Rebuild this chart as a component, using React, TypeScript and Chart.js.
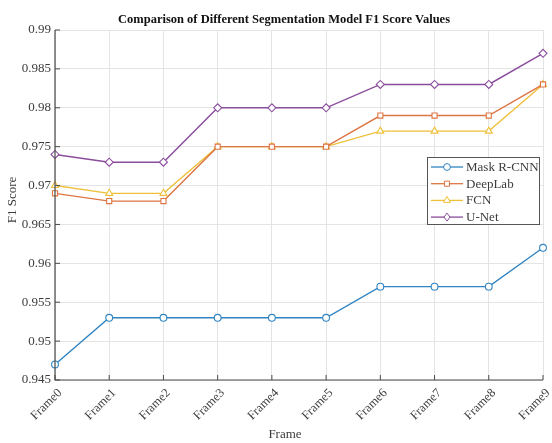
import React, { useEffect, useRef } from "react";
import { Chart, registerables } from "chart.js";

Chart.register(...registerables);

const frames = ["Frame0", "Frame1", "Frame2", "Frame3", "Frame4", "Frame5", "Frame6", "Frame7", "Frame8", "Frame9"];
const maskRcnn = [0.947, 0.953, 0.953, 0.953, 0.953, 0.953, 0.957, 0.957, 0.957, 0.962];
const deepLab = [0.969, 0.968, 0.968, 0.975, 0.975, 0.975, 0.979, 0.979, 0.979, 0.983];
const fcn = [0.970, 0.969, 0.969, 0.975, 0.975, 0.975, 0.977, 0.977, 0.977, 0.983];
const uNet = [0.974, 0.973, 0.973, 0.980, 0.980, 0.980, 0.983, 0.983, 0.983, 0.987];
const yTicks = [0.945, 0.95, 0.955, 0.96, 0.965, 0.97, 0.975, 0.98, 0.985, 0.99];

const titleText = "Comparison of Different Segmentation Model F1 Score Values";
const xTitle = "Frame";
const yTitle = "F1 Score";

const SERIF = "'Liberation Serif', 'DejaVu Serif', serif";
const TEXT = "#3c3c3c";
const AXIS = "#4a4a4a";
const GRID = "#e4e4e4";

type Series = { label: string; data: number[]; color: string; marker: string; radius: number };

const series: Series[] = [
  { label: "Mask R-CNN", data: maskRcnn, color: "#2f84c2", marker: "circle", radius: 3.4 },
  { label: "DeepLab", data: deepLab, color: "#dd7543", marker: "rect", radius: 3.6 },
  { label: "FCN", data: fcn, color: "#eec03a", marker: "triangle", radius: 4 },
  { label: "U-Net", data: uNet, color: "#8a4c9c", marker: "rectRot", radius: 4 },
];

function drawMarker(ctx: CanvasRenderingContext2D, kind: string, x: number, y: number, r: number) {
  ctx.beginPath();
  if (kind === "circle") {
    ctx.arc(x, y, r, 0, Math.PI * 2);
  } else if (kind === "rect") {
    const s = Math.SQRT1_2 * r;
    ctx.rect(x - s, y - s, 2 * s, 2 * s);
  } else if (kind === "triangle") {
    const side = (3 * r) / Math.sqrt(3);
    const h = (side * Math.sqrt(3)) / 2;
    ctx.moveTo(x - side / 2, y + h / 3);
    ctx.lineTo(x + side / 2, y + h / 3);
    ctx.lineTo(x, y - (2 * h) / 3);
    ctx.closePath();
  } else {
    ctx.moveTo(x, y - r);
    ctx.lineTo(x + r * 0.75, y);
    ctx.lineTo(x, y + r);
    ctx.lineTo(x - r * 0.75, y);
    ctx.closePath();
  }
  ctx.fillStyle = "#ffffff";
  ctx.fill();
  ctx.stroke();
}

const decorations = {
  id: "decorations",
  afterDraw(chart: any) {
    const { ctx, chartArea } = chart;
    const xs = chart.scales.x;
    const ys = chart.scales.y;
    ctx.save();

    // axis lines with inward ticks
    ctx.strokeStyle = AXIS;
    ctx.lineWidth = 1.2;
    ctx.beginPath();
    ctx.moveTo(chartArea.left, chartArea.top);
    ctx.lineTo(chartArea.left, chartArea.bottom);
    ctx.lineTo(chartArea.right, chartArea.bottom);
    ctx.stroke();
    ctx.lineWidth = 1;
    ctx.beginPath();
    yTicks.forEach((v) => {
      const py = ys.getPixelForValue(v);
      ctx.moveTo(chartArea.left, py);
      ctx.lineTo(chartArea.left + 5, py);
    });
    frames.forEach((_, i) => {
      const px = xs.getPixelForValue(i);
      ctx.moveTo(px, chartArea.bottom);
      ctx.lineTo(px, chartArea.bottom - 5);
    });
    ctx.stroke();

    // rotated category labels
    ctx.fillStyle = TEXT;
    ctx.font = `12.5px ${SERIF}`;
    ctx.textAlign = "right";
    ctx.textBaseline = "middle";
    frames.forEach((f, i) => {
      const px = xs.getPixelForValue(i);
      ctx.save();
      ctx.translate(px + 5, chartArea.bottom + 11);
      ctx.rotate(-Math.PI / 4);
      ctx.fillText(f, 0, 0);
      ctx.restore();
    });

    // title
    ctx.fillStyle = "#111";
    ctx.font = `bold 12.5px ${SERIF}`;
    ctx.textAlign = "center";
    ctx.textBaseline = "middle";
    ctx.fillText(titleText, 284, 20);

    // axis titles
    ctx.fillStyle = TEXT;
    ctx.font = `13px ${SERIF}`;
    ctx.fillText(xTitle, 285, 435);
    ctx.save();
    ctx.translate(13, 200);
    ctx.rotate(-Math.PI / 2);
    ctx.fillText(yTitle, 0, 0);
    ctx.restore();

    // legend
    const bx = 427, by = 157, bw = 112, bh = 67;
    ctx.fillStyle = "#ffffff";
    ctx.fillRect(bx, by, bw, bh);
    ctx.strokeStyle = "#555";
    ctx.lineWidth = 1;
    ctx.strokeRect(bx + 0.5, by + 0.5, bw, bh);
    ctx.font = `13px ${SERIF}`;
    ctx.textAlign = "left";
    series.forEach((s, i) => {
      const ry = 167 + i * 16.7;
      ctx.strokeStyle = s.color;
      ctx.lineWidth = 1.3;
      ctx.beginPath();
      ctx.moveTo(431, ry);
      ctx.lineTo(463, ry);
      ctx.stroke();
      ctx.lineWidth = 1;
      drawMarker(ctx, s.marker, 447, ry, s.radius);
      ctx.fillStyle = TEXT;
      ctx.fillText(s.label, 466, ry + 0.5);
    });
    ctx.restore();
  },
};

export default function App() {
  const ref = useRef<HTMLCanvasElement | null>(null);

  useEffect(() => {
    if (!ref.current) return;
    const chart = new Chart(ref.current, {
      type: "line",
      data: {
        labels: frames,
        datasets: series.map((s) => ({
          label: s.label,
          data: s.data,
          borderColor: s.color,
          backgroundColor: "#ffffff",
          borderWidth: 1.4,
          pointStyle: s.marker as any,
          pointRadius: s.radius,
          pointBorderWidth: 1.1,
          pointBackgroundColor: "#ffffff",
          pointBorderColor: s.color,
          tension: 0,
          clip: false as any,
        })),
      },
      options: {
        animation: false,
        responsive: false,
        maintainAspectRatio: false,
        layout: { padding: { top: 30, right: 9, left: 0, bottom: 0 } },
        plugins: {
          legend: { display: false },
          title: { display: false },
          tooltip: { enabled: false },
        },
        scales: {
          x: {
            type: "category",
            offset: false,
            grid: { color: GRID, drawTicks: false },
            border: { display: false },
            ticks: { display: false, autoSkip: false },
            afterFit(scale: any) {
              scale.height = 63;
            },
          },
          y: {
            type: "linear",
            min: 0.945,
            max: 0.99,
            grid: { color: GRID, drawTicks: false },
            border: { display: false },
            afterBuildTicks(scale: any) {
              scale.ticks = yTicks.map((v) => ({ value: v }));
            },
            ticks: {
              color: TEXT,
              font: { family: SERIF, size: 13 },
              padding: 4,
              callback: (v: any) => String(Number(v)),
            },
            afterFit(scale: any) {
              scale.width = 55;
            },
          },
        },
      },
      plugins: [decorations],
    });
    return () => chart.destroy();
  }, []);

  return (
    <div style={{ position: "fixed", left: 0, top: 0, width: 552, height: 443, background: "#fff" }}>
      <canvas ref={ref} width={552} height={443} style={{ display: "block" }} />
    </div>
  );
}
